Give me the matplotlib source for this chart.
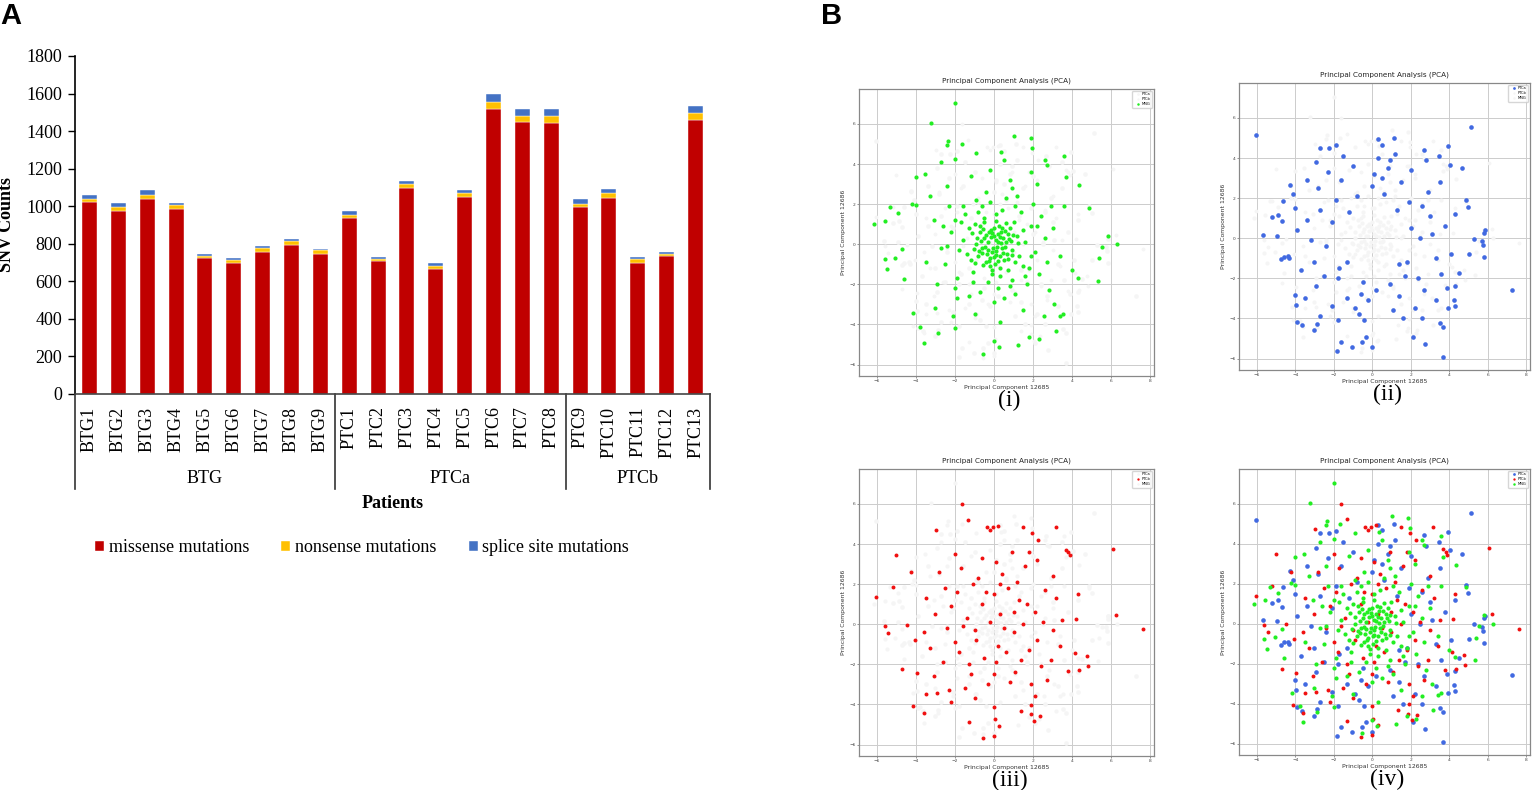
import matplotlib
matplotlib.use("Agg")
import matplotlib.pyplot as plt
import matplotlib.transforms as mtransforms
import numpy as np

# ---- panel A data ----
patients = ["BTG1", "BTG2", "BTG3", "BTG4", "BTG5", "BTG6", "BTG7", "BTG8", "BTG9",
            "PTC1", "PTC2", "PTC3", "PTC4", "PTC5", "PTC6", "PTC7", "PTC8",
            "PTC9", "PTC10", "PTC11", "PTC12", "PTC13"]
missense = [1020, 977, 1038, 984, 723, 695, 757, 796, 745,
            938, 709, 1098, 666, 1047, 1516, 1446, 1441,
            995, 1043, 700, 736, 1459]
nonsense = [21, 18, 23, 20, 11, 18, 18, 18, 21,
            13, 9, 18, 18, 26, 39, 36, 39,
            18, 27, 18, 12, 37]
splice = [18, 21, 25, 12, 11, 10, 12, 11, 5,
          21, 12, 19, 16, 13, 41, 36, 38,
          25, 21, 12, 9, 36]
groups = ["BTG", "PTCa", "PTCb"]
group_sizes = [9, 8, 5]

# ---- panel B data (hand-read PCA coordinates, a sample of the points) ----
mng_pts = [
    (0.1, 0.2), (-0.3, 0.1), (0.4, -0.2), (-0.1, -0.4), (0.2, 0.5), (-0.5, 0.3), (0.6, 0.1), (-0.2, -0.7),
    (0.3, -0.6), (-0.6, -0.2), (0.0, 0.8), (0.7, 0.5), (-0.7, 0.6), (0.5, -0.8), (-0.4, -0.9), (0.9, -0.3),
    (-0.9, 0.0), (0.15, -0.15), (-0.15, 0.35), (0.45, 0.3), (-0.35, -0.5), (0.25, 0.9), (-0.8, -0.6),
    (0.8, 0.8), (0.05, -1.0), (-0.55, 0.75), (0.65, -0.5), (-0.25, 0.6), (0.35, 0.05), (-0.05, -0.2),
    (0.55, 0.65), (-0.45, -0.15), (0.1, -0.55), (-0.65, 0.15), (0.3, 0.35), (-0.2, -1.1), (0.0, 0.4),
    (0.85, 0.15), (-0.75, -0.35), (0.2, -0.85),
    (0.12, -0.32), (-0.42, 0.48), (0.58, -0.12), (-0.18, 0.72), (0.38, 0.62), (-0.62, -0.45), (0.72, -0.72),
    (-0.88, 0.32), (0.02, -0.62), (0.48, -0.42), (-0.32, -0.28), (0.22, 0.12), (-0.08, 0.55), (0.95, 0.45),
    (-1.05, -0.25), (0.32, -1.2), (-0.5, 1.1), (1.1, -0.9), (-1.15, 0.55), (0.62, 1.05), (-0.28, -0.82),
    (0.78, 0.28), (-0.72, 0.9), (0.08, 1.18), (-0.98, -0.95), (1.22, 0.05), (-0.12, -1.28), (0.42, 0.82),
    (-0.58, -1.05), (0.92, -0.55),
    (1.2, 0.4), (-1.3, 0.8), (1.5, -1.1), (-1.1, -1.4), (0.4, 1.7), (-0.6, 1.9), (1.9, 0.9), (-1.8, -0.3),
    (0.9, -1.8), (-0.3, -1.9), (2.1, -0.4), (-2.2, 0.6), (1.4, 1.6), (-1.5, 1.5), (1.7, -2.0), (-1.9, -1.7),
    (0.6, 2.3), (-0.9, 2.2), (2.4, 1.4), (-2.5, -1.0), (1.1, -2.5), (-0.7, -2.4), (2.3, -1.5), (-2.3, 1.9),
    (0.2, -2.2), (1.0, 1.1), (-1.0, 1.0), (1.3, -0.6), (-1.2, -0.8), (0.7, -1.3), (-0.5, 1.3), (1.6, 0.1),
    (-1.6, 0.2), (0.1, 1.5), (-0.1, -1.5), (2.0, 2.0), (-2.0, -2.2), (2.6, 0.3), (-2.7, -0.2), (0.5, -2.7),
    (-0.4, 2.6), (1.8, -1.2), (-1.7, 1.1), (1.2, 2.4), (-1.3, -2.6),
    (1.5, 0.7), (-1.4, -0.5), (0.3, -1.6), (-0.8, 1.6), (1.9, -0.6), (-2.0, 1.2), (1.1, 1.9), (-1.1, -1.9),
    (2.2, 0.9), (-2.4, -0.1), (0.8, -2.1), (-0.2, 2.1), (1.6, -1.6), (-1.6, 1.9), (2.7, -0.9), (-2.6, 0.9),
    (0.0, -2.9), (0.9, 2.8), (-1.9, -2.7), (2.9, 1.9),
    (3.0, 0.8), (-3.1, 1.2), (2.8, -2.3), (-2.9, -2.0), (0.8, 3.2), (-1.2, 3.4), (1.5, -3.3), (-1.0, -3.5),
    (3.4, -0.6), (-3.5, -0.9), (2.2, 3.0), (-2.4, 2.9), (3.6, 1.9), (-3.3, 2.4), (0.3, -3.9), (-0.2, 3.7),
    (3.1, -3.0), (-3.0, -3.2), (1.9, 3.6), (-2.1, -3.6),
    (-1.98, 7.03), (-3.25, 6.04), (1.03, 5.41), (1.88, 5.3), (-2.37, 5.15), (-2.4, 4.96), (-1.65, 5.0),
    (1.95, 4.8), (-0.9, 4.56), (0.35, 4.6), (3.58, 4.4), (-2.0, 4.26), (0.5, 4.18), (2.6, 4.2), (2.7, 3.93),
    (-2.7, 4.1), (-4.0, 3.35), (-3.55, 3.5), (3.7, 3.35), (4.37, 2.95), (4.87, 1.83), (-5.32, 1.86),
    (-4.9, 1.56), (-6.13, 1.0), (-5.58, 1.17), (-5.6, -0.75), (-5.47, -1.25), (-5.06, -0.68), (-4.7, -0.25),
    (-4.6, -1.74), (5.83, 0.41), (6.3, 0.0), (5.55, -0.13), (5.4, -0.71), (5.33, -1.84), (4.0, -1.3),
    (4.3, -1.66), (-4.16, -3.45), (-3.77, -4.12), (-3.6, -4.91), (-2.87, -4.41), (-2.0, -4.17),
    (-0.55, -5.49), (0.0, -4.83), (0.26, -5.11), (1.24, -5.0), (1.8, -4.61), (2.3, -4.75), (3.18, -4.31),
    (3.4, -3.58), (3.55, -3.49), (2.58, -3.6), (-4.0, 1.94), (-4.2, 2.02),
]
ptca_pts = [
    (2.0, 0.5), (-2.1, 0.8), (1.8, -1.2), (-1.7, -1.5), (0.6, 2.2), (-0.8, 2.1), (0.9, -2.3), (-0.5, -2.2),
    (2.6, 1.6), (-2.7, 1.4), (2.4, -2.0), (-2.5, -1.9), (1.5, 2.8), (-1.6, 2.9), (1.4, -2.9), (-1.3, -3.0),
    (3.1, 0.2), (-3.2, -0.1), (0.1, 3.2), (-0.2, -3.1), (3.3, -1.0), (-3.4, 0.9), (2.9, 2.3), (-2.8, 2.5),
    (2.7, -2.6), (-2.9, -2.4), (0.8, 3.5), (-1.0, 3.6), (1.1, -3.6), (-0.9, -3.5), (3.8, 0.6), (-3.9, 0.4),
    (3.6, -1.8), (-3.7, -1.6), (2.0, 3.4), (-2.3, 3.3), (2.2, -3.5), (-2.1, -3.4), (0.3, 4.0), (-0.4, -4.1),
    (4.1, -0.8), (-4.0, 1.5), (3.5, 2.8), (-3.4, 2.9), (3.3, -3.1), (-3.5, -3.0), (1.2, 4.2), (-1.5, 4.1),
    (1.6, -4.0), (-1.8, -4.1), (2.5, 0.0), (-2.4, -0.4), (0.0, 2.6), (0.2, -2.6), (1.9, 1.8), (-1.9, 1.9),
    (1.7, -1.9), (-1.8, -2.0), (4.3, 1.2), (-4.3, -1.0), (2.8, 3.9), (-2.9, 3.8), (2.6, -4.0), (-2.7, -3.9),
    (1.3, 1.4), (-1.2, 1.3), (1.4, -1.3), (-1.3, -1.2), (0.5, 3.0), (-0.6, -2.8), (3.0, 1.1), (-3.0, -1.2),
    (3.9, -2.5), (-4.1, 2.2), (0.9, 3.9), (-0.7, -3.8),
    (-6.03, 5.17), (5.12, 5.55), (-5.66, 0.18), (-5.2, 1.05), (-4.89, 1.18), (-4.7, 0.85), (-4.92, 0.13),
    (-4.72, -1.05), (-4.6, -0.93), (-4.37, -0.9), (-4.63, 1.84), (-4.25, 2.63), (-4.02, -2.84),
    (-3.94, -3.31), (-3.89, -4.17), (-3.65, -4.35), (-3.03, -4.6), (-2.87, -4.27), (-1.82, -5.63),
    (-1.62, -5.19), (-1.05, -5.42), (-0.54, -5.19), (-0.33, -4.94), (0.01, -5.42), (3.67, -5.93),
    (3.54, -4.22), (3.67, -4.42), (2.76, -5.25), (2.12, -4.92), (7.26, -2.56), (5.82, 0.27), (5.86, 0.4),
    (5.72, -0.15), (5.77, -0.35), (5.82, -0.95), (5.29, -0.02), (5.03, -0.77), (5.0, 1.56), (4.86, 1.93),
    (4.66, 3.5), (3.93, 4.59), (3.48, 4.09), (2.68, 4.42), (0.32, 4.95), (1.13, 5.0), (0.49, 4.67),
    (-1.88, 4.64), (-2.7, 4.52), (-2.26, 4.52), (4.05, 3.67), (4.3, -2.39), (4.3, -3.39), (4.25, -3.09),
    (3.93, -3.47), (4.53, -1.73),
]
ptcb_pts = [
    (0.3, 0.5), (-0.6, 1.0), (1.0, -0.4), (-0.9, -0.8), (0.2, -1.1), (1.3, 1.2), (-1.4, 0.3), (0.7, 1.8),
    (-0.5, -1.7), (1.8, -1.3), (-1.9, 1.6), (2.1, 0.6), (-2.0, -0.9), (0.4, 2.5), (-0.8, 2.3), (1.1, -2.4),
    (-1.2, -2.5), (2.6, 1.7), (-2.5, 1.8), (2.4, -2.1), (-2.6, -1.9), (3.0, -0.3), (-3.0, 0.5), (0.1, 3.1),
    (-0.3, -3.0), (1.6, 2.9), (-1.7, 2.8), (1.9, -3.0), (-1.5, -3.2), (3.2, 1.3), (-3.3, -1.2), (2.9, -1.8),
    (-2.8, 2.6), (0.9, 3.6), (-1.0, -3.7), (3.5, 0.2), (-3.6, -0.4), (2.2, 3.2), (-2.3, -3.3), (0.5, -0.2),
    (-0.2, 0.1), (1.5, 0.0), (-1.6, -0.1), (0.0, 1.5), (0.1, -1.9), (2.2, -0.8), (-2.2, 0.9), (1.2, 2.1),
    (-1.3, -2.0), (0.8, -2.9), (-0.6, 3.3), (3.0, 2.4), (-3.1, -2.6), (2.7, -2.8), (1.0, 0.6), (-1.0, -0.3),
    (0.6, -1.4), (-0.4, 1.6), (1.7, 1.0), (-1.8, -1.4), (2.5, 0.1), (-2.4, -0.2), (0.3, 2.0), (0.0, -2.5),
    (1.4, -1.8), (-1.1, 2.0), (3.4, -1.1), (-3.5, 1.3), (1.8, 3.6), (-2.0, 3.5), (2.1, -3.6), (-2.2, -3.9),
    (-1.64, 5.97), (-1.32, 5.22), (-2.95, 4.72), (-0.37, 4.83), (-0.23, 4.68), (-0.06, 4.85), (0.2, 4.92),
    (1.5, 4.83), (3.17, 4.85), (1.95, 4.55), (2.26, 4.18), (-5.0, 3.47), (6.08, 3.77), (3.68, 3.72),
    (3.81, 3.6), (3.88, 3.43), (-4.24, 2.58), (-5.2, 1.88), (-6.03, 1.38), (6.25, 0.47), (7.63, -0.25),
    (-5.6, -0.08), (-5.43, -0.42), (-4.48, -0.03), (-4.71, -2.25), (-3.94, -2.45), (-4.06, -0.78),
    (-4.14, -4.08), (-3.59, -4.45), (-3.5, -3.48), (-2.9, -3.42), (-1.3, -4.87), (-0.58, -5.67),
    (0.03, -4.75), (0.0, -5.58), (0.28, -5.08), (-0.02, -4.12), (1.88, -4.5), (2.05, -4.83), (2.34, -4.58),
    (1.91, -4.03), (1.36, -4.32), (4.75, -1.58), (4.82, -2.08), (4.35, -2.28), (3.8, -2.32), (4.14, -1.42),
    (4.32, 1.5), (4.2, 0.25),
]

c_mis, c_non, c_spl = "#C00000", "#FFC000", "#4472C4"
c_ptca, c_ptcb, c_mng = "#4169E1", "#F01010", "#22EE22"
serif = ["Liberation Serif", "DejaVu Serif"]

fig = plt.figure(figsize=(15.36, 7.9), dpi=100)

# ================= panel A =================
ax = fig.add_axes([75 / 1536, 1 - 394 / 790, 635 / 1536, 338 / 790])
x = np.arange(len(patients))
mis = np.array(missense)
non = np.array(nonsense)
spl = np.array(splice)
b1 = ax.bar(x, mis, width=0.52, color=c_mis, edgecolor="white", linewidth=0.3)
b2 = ax.bar(x, non, width=0.52, bottom=mis, color=c_non, edgecolor="white", linewidth=0.3)
b3 = ax.bar(x, spl, width=0.52, bottom=mis + non, color=c_spl, edgecolor="white", linewidth=0.3)

ax.set_xlim(-0.5, len(patients) - 0.5)
ax.set_ylim(0, 1800)
ax.set_yticks(np.arange(0, 1801, 200))
ax.set_xticks(x)
ax.set_xticklabels(patients, rotation=90, family=serif, fontsize=13)
for lab in ax.get_yticklabels():
    lab.set_family(serif)
    lab.set_fontsize(13)
ax.tick_params(axis="x", length=0, pad=9)
ax.tick_params(axis="y", length=5, width=1, direction="out", pad=4)
ax.spines["top"].set_visible(False)
ax.spines["right"].set_visible(False)
ax.spines["left"].set_linewidth(1.2)
ax.spines["bottom"].set_linewidth(1.2)
ax.spines["bottom"].set_color("#444444")
ax.set_ylabel("SNV Counts", family=serif, fontsize=13, fontweight="bold")
ax.yaxis.set_label_coords(-0.094, 0.5)

# group brackets under the tick labels
trans = mtransforms.blended_transform_factory(ax.transData, ax.transAxes)
edges = np.concatenate([[0], np.cumsum(group_sizes)]) - 0.5
for e in edges:
    ax.plot([e, e], [0, -0.281], color="#333333", lw=1.2, transform=trans, clip_on=False)
for g, lo, hi in zip(groups, edges[:-1], edges[1:]):
    ax.text((lo + hi) / 2, -0.251, g, transform=trans, ha="center", va="center",
            family=serif, fontsize=13)
ax.text(0.5, -0.3225, "Patients", transform=ax.transAxes, ha="center", va="center",
        family=serif, fontsize=13, fontweight="bold")

fig.legend([b1, b2, b3], ["missense mutations", "nonsense mutations", "splice site mutations"],
           loc="center left", bbox_to_anchor=(86 / 1536, 1 - 548 / 790), ncol=3, frameon=False,
           prop={"family": serif, "size": 13}, handlelength=0.5, handleheight=0.5,
           handletextpad=0.25, columnspacing=1.8, borderpad=0)

fig.text(0.0, 0.997, "A", family="Liberation Sans", fontweight="bold", fontsize=21, va="top", ha="left")
fig.text(821 / 1536, 0.997, "B", family="Liberation Sans", fontweight="bold", fontsize=21, va="top", ha="left")

# ================= panel B =================
sets = {"PTCa": ptca_pts, "PTCb": ptcb_pts, "MNG": mng_pts}
colors = {"PTCa": c_ptca, "PTCb": c_ptcb, "MNG": c_mng}
sizes = {"PTCa": 11, "PTCb": 8, "MNG": 9}
ghost = "#f5f5f5"

pca_axes = [
    ([859 / 1536, 1 - 376 / 790, 295 / 1536, 287 / 790], ["MNG"], "(i)"),
    ([1239 / 1536, 1 - 370 / 790, 291 / 1536, 287 / 790], ["PTCa"], "(ii)"),
    ([859 / 1536, 1 - 756 / 790, 295 / 1536, 287 / 790], ["PTCb"], "(iii)"),
    ([1239 / 1536, 1 - 755 / 790, 291 / 1536, 286 / 790], ["PTCa", "PTCb", "MNG"], "(iv)"),
]

for rect, shown, tag in pca_axes:
    pa = fig.add_axes(rect)
    handles = []
    # groups that are not highlighted in a panel are drawn nearly white
    for name in ["PTCa", "PTCb", "MNG"]:
        pts = np.array(sets[name])
        col = colors[name] if name in shown else ghost
        h = pa.scatter(pts[:, 0], pts[:, 1], s=sizes[name], color=col, linewidths=0,
                       zorder=3 if name in shown else 2, label=name)
        handles.append(h)
    pa.set_xlim(-6.92, 8.2)
    pa.set_ylim(-6.57, 7.74)
    pa.set_xticks(np.arange(-6, 9, 2))
    pa.set_yticks(np.arange(-6, 7, 2))
    pa.grid(True, color="#cccccc", lw=0.7)
    pa.set_axisbelow(True)
    pa.tick_params(labelsize=3.2, length=1.5, width=0.4, pad=1, colors="#444444")
    for s in pa.spines.values():
        s.set_color("#888888")
        s.set_linewidth(0.9)
    pa.set_title("Principal Component Analysis (PCA)", fontsize=5.2, pad=5, color="#222222")
    pa.set_xlabel("Principal Component 12685", fontsize=4.4, labelpad=1, color="#333333")
    pa.set_ylabel("Principal Component 12686", fontsize=4.4, labelpad=2, color="#333333")
    pa.legend(handles, ["PTCa", "PTCb", "MNG"], loc="upper right", fontsize=2.6, markerscale=0.6,
              frameon=True, borderpad=0.4, handletextpad=0.2, labelspacing=0.3)
    cx = rect[0] + rect[2] / 2
    fig.text(cx + 0.002, rect[1] - 24 / 790, tag, family=serif, fontsize=17, ha="center", va="center")

fig.savefig("out.png", dpi=100)
